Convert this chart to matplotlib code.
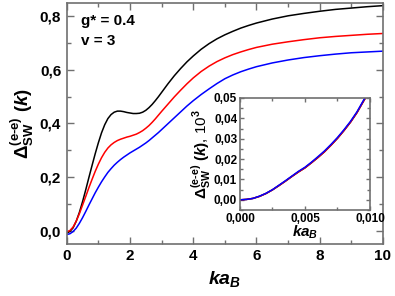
import matplotlib
matplotlib.use("Agg")
import matplotlib.pyplot as plt
from matplotlib.ticker import FuncFormatter, MultipleLocator

plt.rcParams["font.family"] = ["Liberation Sans", "DejaVu Sans"]
plt.rcParams["font.weight"] = "bold"
plt.rcParams["mathtext.fontset"] = "custom"
plt.rcParams["mathtext.rm"] = "Liberation Sans:bold"
plt.rcParams["mathtext.it"] = "Liberation Sans:bold:italic"
plt.rcParams["mathtext.bf"] = "Liberation Sans:bold"

# main panel data
ka = [0, 0.1, 0.2, 0.3, 0.4, 0.5, 0.6, 0.7, 0.8, 0.9, 1.0, 1.1, 1.2, 1.3, 1.4,
      1.5, 1.6, 1.7, 1.8, 1.9, 2.0, 2.1, 2.2, 2.3, 2.4, 2.5, 2.6, 2.7, 2.8, 2.9,
      3.0, 3.2, 3.4, 3.6, 3.8, 4.0, 4.25, 4.5, 4.75, 5.0, 5.25, 5.5, 5.75, 6.0,
      6.5, 7.0, 7.5, 8.0, 8.5, 9.0, 9.5, 10.0]
delta_black = [-0.010, -0.003, 0.010, 0.035, 0.068, 0.108, 0.152, 0.198, 0.243,
               0.287, 0.328, 0.365, 0.395, 0.418, 0.433, 0.442, 0.446, 0.446,
               0.444, 0.441, 0.439, 0.437, 0.437, 0.438, 0.442, 0.449, 0.459,
               0.471, 0.485, 0.500, 0.516, 0.548, 0.578, 0.605, 0.630, 0.652,
               0.677, 0.698, 0.716, 0.731, 0.744, 0.756, 0.766, 0.775, 0.790,
               0.802, 0.811, 0.819, 0.826, 0.831, 0.836, 0.840]
delta_red = [-0.005, 0.000, 0.013, 0.035, 0.063, 0.095, 0.127, 0.160, 0.191,
             0.221, 0.248, 0.272, 0.292, 0.308, 0.320, 0.329, 0.336, 0.341,
             0.345, 0.349, 0.352, 0.356, 0.360, 0.366, 0.373, 0.382, 0.392,
             0.404, 0.417, 0.431, 0.445, 0.472, 0.499, 0.524, 0.548, 0.570,
             0.594, 0.614, 0.631, 0.645, 0.657, 0.667, 0.676, 0.684, 0.696,
             0.705, 0.713, 0.720, 0.725, 0.729, 0.733, 0.736]
delta_blue = [-0.015, -0.012, -0.004, 0.009, 0.027, 0.048, 0.071, 0.095, 0.118,
              0.141, 0.162, 0.182, 0.200, 0.217, 0.231, 0.244, 0.255, 0.265,
              0.274, 0.282, 0.290, 0.297, 0.304, 0.311, 0.319, 0.327, 0.336,
              0.346, 0.356, 0.366, 0.377, 0.399, 0.421, 0.443, 0.465, 0.485,
              0.508, 0.529, 0.549, 0.567, 0.581, 0.593, 0.603, 0.612, 0.626,
              0.637, 0.646, 0.653, 0.659, 0.664, 0.667, 0.670]

# inset data
ka_small = [0, 0.0005, 0.001, 0.0015, 0.002, 0.0025, 0.003, 0.0035, 0.004, 0.0045,
            0.005, 0.0055, 0.006, 0.0065, 0.007, 0.0075, 0.008, 0.0085, 0.009,
            0.0095, 0.0098]
small_blue = [0, 0.0002, 0.0007, 0.0018, 0.0032, 0.0050, 0.0072, 0.0094, 0.0117,
              0.0140, 0.0160, 0.0185, 0.0212, 0.0240, 0.0272, 0.0306, 0.0344,
              0.0385, 0.0432, 0.0488, 0.0520]
small_red = [0, 0.0002, 0.0007, 0.0017, 0.0031, 0.0049, 0.0070, 0.0092, 0.0115,
             0.0137, 0.0157, 0.0182, 0.0208, 0.0236, 0.0268, 0.0302, 0.0340,
             0.0381, 0.0428, 0.0484, 0.0516]

frame_col = "#707070"


def comma(fmt):
    return FuncFormatter(lambda v, p: (fmt % v).replace(".", ","))


def style_axes(ax, size):
    for s in ax.spines.values():
        s.set_color(frame_col)
        s.set_linewidth(1.2)
    ax.tick_params(which="both", direction="in", top=True, right=True,
                   color=frame_col, labelsize=size, pad=4)
    ax.tick_params(which="major", length=5, width=1)
    ax.tick_params(which="minor", length=3, width=1)
    for lab in ax.get_xticklabels() + ax.get_yticklabels():
        lab.set_fontweight("bold")


fig = plt.figure(figsize=(3.95, 2.96), dpi=100)
ax = fig.add_axes([0.169, 0.176, 0.8006, 0.814])

ax.plot(ka, delta_black, color="black", lw=1.1)
ax.plot(ka, delta_red, color="red", lw=1.1)
ax.plot(ka, delta_blue, color="blue", lw=1.1)

ax.set_xlim(0, 10)
ax.set_ylim(-0.05, 0.85)
ax.xaxis.set_major_locator(MultipleLocator(2))
ax.xaxis.set_minor_locator(MultipleLocator(1))
ax.yaxis.set_major_locator(MultipleLocator(0.2))
ax.yaxis.set_minor_locator(MultipleLocator(0.1))
ax.xaxis.set_major_formatter(FuncFormatter(lambda v, p: "%d" % v))
ax.yaxis.set_major_formatter(comma("%.1f"))
style_axes(ax, 11)

ax.set_xlabel(r"$ka_B$", fontsize=14, labelpad=4)
ax.set_ylabel(r"$\Delta_{\mathrm{SW}}^{\mathrm{(e\text{-}e)}}$ $(k)$", fontsize=13.5, labelpad=3)

ax.text(0.045, 0.955, "g* = 0.4", transform=ax.transAxes, fontsize=11,
        fontweight="bold", va="top")
ax.text(0.045, 0.87, "v = 3", transform=ax.transAxes, fontsize=11,
        fontweight="bold", va="top")

# inset
axin = fig.add_axes([0.6076, 0.2905, 0.329, 0.3785])
axin.plot(ka_small, small_red, color="black", lw=1.1)
axin.plot(ka_small, small_red, color="red", lw=1.1)
axin.plot(ka_small, small_blue, color="blue", lw=1.1)
axin.set_xlim(0, 0.010)
axin.set_ylim(-0.005, 0.05)
axin.xaxis.set_major_locator(MultipleLocator(0.005))
axin.xaxis.set_minor_locator(MultipleLocator(0.0025))
axin.yaxis.set_major_locator(MultipleLocator(0.01))
axin.yaxis.set_minor_locator(MultipleLocator(0.005))
axin.xaxis.set_major_formatter(comma("%.3f"))
axin.yaxis.set_major_formatter(comma("%.2f"))
style_axes(axin, 8.5)
axin.tick_params(which="major", length=3)
axin.tick_params(which="minor", length=2)
axin.tick_params(pad=2)
axin.set_xlabel(r"$ka_B$", fontsize=11, labelpad=-1)
axin.set_ylabel(r"$\Delta_{\mathrm{SW}}^{\mathrm{(e\text{-}e)}}$ $(k)$, 10$^{3}$",
                fontsize=11, labelpad=1)

fig.savefig("out.png", dpi=100)
